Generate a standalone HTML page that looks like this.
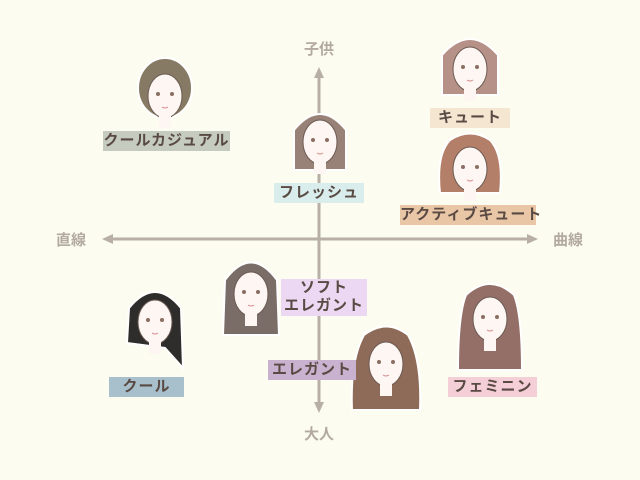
<!DOCTYPE html>
<html><head><meta charset="utf-8"><style>
body{margin:0;width:640px;height:480px;background:#fdfcf1;overflow:hidden;position:relative;font-family:"Liberation Sans","Noto Sans CJK JP",sans-serif}
.l{position:absolute;color:#5a4a44;font-size:15px;font-weight:bold;text-align:center;letter-spacing:1px;line-height:20px;white-space:nowrap}
.a{position:absolute;color:#b2aaa0;font-size:15px;font-weight:bold}
</style></head><body>
<svg width="640" height="480" style="position:absolute;left:0;top:0">
<defs>
<g id="face"><ellipse cx="0" cy="4" rx="17" ry="22" fill="#fdf6f2" stroke="#6a5a52" stroke-width="1"/><rect x="-6" y="22" width="12" height="14" fill="#fdf6f2"/>
<circle cx="-7" cy="2" r="2" fill="#8a6e62"/><circle cx="7" cy="2" r="2" fill="#8a6e62"/><path d="M-3 15 Q0 17 3 15" stroke="#d48a8a" fill="none"/></g>
</defs>
<g stroke="#b8b0a6" stroke-width="3" fill="#b8b0a6">
<line x1="319" y1="75" x2="319" y2="405"/><line x1="108" y1="239" x2="531" y2="239"/>
</g>
<g fill="#b8b0a6"><polygon points="319,67 314,78 324,78"/><polygon points="319,413 314,402 324,402"/>
<polygon points="102,239 113,234 113,244"/><polygon points="538,239 527,234 527,244"/></g>
<g transform="translate(165,92)"><ellipse cx="0" cy="-4" rx="27" ry="30" fill="#867a64" stroke="#fff" stroke-width="2"/><use href="#face"/></g>
<g transform="translate(470,65)"><path d="M-28 30 L-28 -10 Q0 -42 28 -10 L28 30 Z" fill="#b69188" stroke="#fff" stroke-width="2"/><use href="#face"/></g>
<g transform="translate(320,138)"><path d="M-26 32 L-26 -8 Q0 -40 26 -8 L26 32 Z" fill="#988278" stroke="#fff" stroke-width="2"/><use href="#face"/></g>
<g transform="translate(470,165)"><path d="M-30 28 Q-34 -10 -20 -25 Q0 -38 20 -25 Q34 -10 30 28 Z" fill="#b37f68" stroke="#fff" stroke-width="2"/><use href="#face"/></g>
<g transform="translate(251,290)"><path d="M-28 45 L-26 -10 Q0 -45 26 -10 L28 45 Z" fill="#7a6c66" stroke="#fff" stroke-width="2"/><use href="#face"/></g>
<g transform="translate(155,318)"><path d="M-28 25 L-26 -10 Q0 -42 26 -10 L28 50 L10 30 Z" fill="#2f2d2c" stroke="#fff" stroke-width="2"/><use href="#face"/></g>
<g transform="translate(386,360)"><path d="M-34 50 Q-36 0 -22 -25 Q0 -42 22 -25 Q36 0 34 50 Z" fill="#8e6a58" stroke="#fff" stroke-width="2"/><use href="#face"/></g>
<g transform="translate(490,315)"><path d="M-32 55 Q-32 0 -24 -20 Q0 -42 24 -20 Q32 0 32 55 Z" fill="#946f68" stroke="#fff" stroke-width="2"/><use href="#face"/></g>
</svg>
<div class="a" style="left:304px;top:38px">子供</div>
<div class="a" style="left:304px;top:423px">大人</div>
<div class="a" style="left:56px;top:229px">直線</div>
<div class="a" style="left:553px;top:229px">曲線</div>
<div class="l" style="left:103px;top:131px;width:127px;background:#c5cbbf">クールカジュアル</div>
<div class="l" style="left:430px;top:108px;width:80px;background:#f5e6d2">キュート</div>
<div class="l" style="left:274px;top:183px;width:90px;background:#d9eeec">フレッシュ</div>
<div class="l" style="left:400px;top:205px;width:136px;background:#e9c6a6">アクティブキュート</div>
<div class="l" style="left:281px;top:279px;width:86px;height:37px;line-height:18px;background:#ecd8f2">ソフト<br>エレガント</div>
<div class="l" style="left:268px;top:360px;width:88px;background:#c9b2cf">エレガント</div>
<div class="l" style="left:109px;top:377px;width:75px;background:#a8bfcc">クール</div>
<div class="l" style="left:448px;top:377px;width:89px;background:#f4cfd7">フェミニン</div>
</body></html>
